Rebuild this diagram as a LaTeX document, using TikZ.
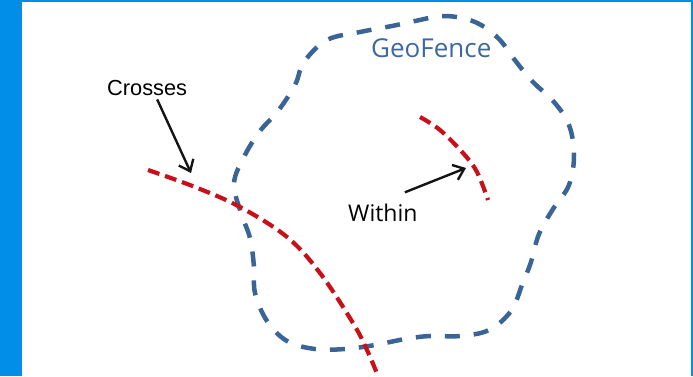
\documentclass[tikz,border=0pt]{standalone}
\usepackage{fontspec}
\setmainfont{Liberation Sans}
\newfontfamily\segoe{Open Sans}
\usetikzlibrary{arrows.meta}
\definecolor{barblue}{RGB}{0,142,232}
\definecolor{fenceblue}{RGB}{58,99,150}
\definecolor{textblue}{RGB}{62,104,160}
\definecolor{pathred}{RGB}{200,16,26}
\definecolor{inkdark}{RGB}{20,20,20}
\tikzset{
  fence/.style={draw=fenceblue, line width=4.5pt, dash pattern=on 15pt off 14pt},
  track/.style={draw=pathred, line width=4.2pt, dash pattern=on 12pt off 6pt},
  pointer/.style={-{Straight Barb[length=10pt, width=16pt]}, line width=2.4pt, color=inkdark},
  label/.style={inner sep=0pt, anchor=base west}
}

\begin{document}
\begin{tikzpicture}[x=1pt, y=-1pt]
  \useasboundingbox (0,0) rectangle (693,376);

  % frame
  \fill[barblue] (0,0) rectangle (22,376);
  \fill[barblue] (22,0) rectangle (693,1.5);
  \fill[barblue] (690.5,0) rectangle (693,376);

  % geofence outline
  \path[fence] plot[smooth cycle, tension=0.6] coordinates {
    (234,183) (245,155) (260,131) (278,111) (295,85) (304,62) (327,40)
    (360,32) (392,26) (415,21) (445,16) (475,22) (498,38) (514,59)
    (532,81) (554,102) (569,125) (574,155) (569,185) (553,209) (539,234)
    (531,262) (522,285) (511,311) (489,330) (460,336) (430,336) (405,339)
    (375,345) (345,349) (315,349) (287,341) (267,321) (255,293) (254,267)
    (250,238) (241,213)};

  % tracks
  \path[track] plot[smooth, tension=0.6] coordinates {
    (148,170) (195,187) (240,207) (287,237) (320,273) (353,323) (367,350) (378,376)};
  \path[track] plot[smooth, tension=0.6] coordinates {
    (420,117) (440,130) (463,153) (477,172) (488,200)};

  % labels
  \node[label, font=\fontsize{21.8}{26}\selectfont] (crosses) at (107,95) {Crosses};
  \node[label, font=\segoe\fontsize{23}{28}\selectfont] (within) at (348,221) {Within};
  \node[label, font=\segoe\fontsize{26}{31}\selectfont, text=textblue] (geofence) at (371,57) {GeoFence};

  \coordinate (crosshit) at (191,173);
  \coordinate (withinhit) at (466,168);
  \draw[pointer] (crosses.south) ++(10,4) -- (crosshit);
  \draw[pointer] (within.north) ++(22,-11) -- (withinhit);
\end{tikzpicture}
\end{document}
